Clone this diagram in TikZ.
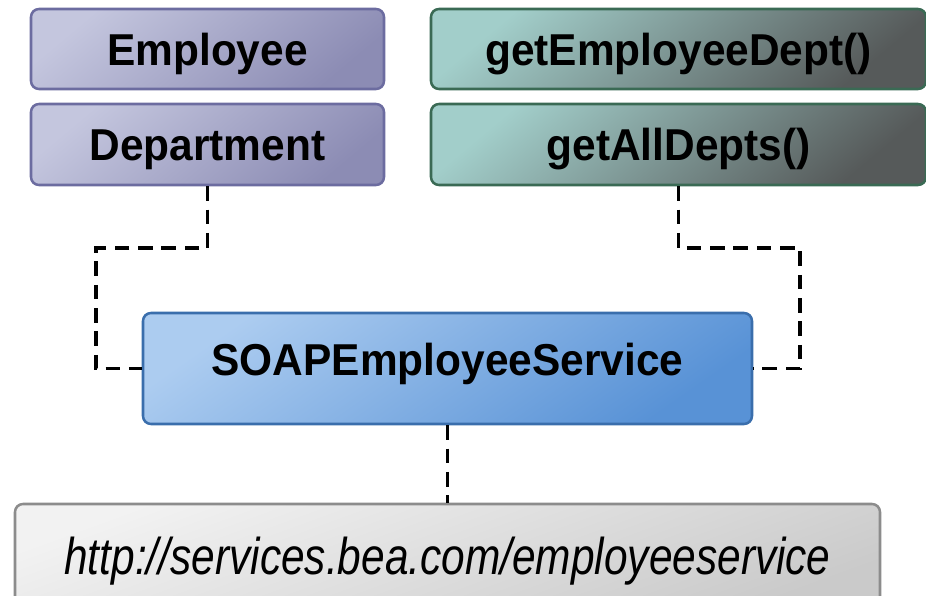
\documentclass[tikz,border=0pt]{standalone}
\usepackage{fontspec}
\setmainfont{Liberation Sans}
\newfontfamily\boxfont{Liberation Sans}[FakeStretch=0.95]
\newfontfamily\urlfont{Liberation Sans}[FakeStretch=0.82]
\usepackage{tikz}
\usetikzlibrary{positioning,calc,shadings}

\definecolor{purpleA}{RGB}{196,198,222}
\definecolor{purpleB}{RGB}{140,140,180}
\definecolor{purpleline}{RGB}{108,108,160}
\definecolor{tealA}{RGB}{162,206,202}
\definecolor{tealM}{RGB}{148,184,182}
\definecolor{tealB}{RGB}{86,90,90}
\definecolor{tealline}{RGB}{58,106,84}
\definecolor{blueA}{RGB}{172,204,240}
\definecolor{blueB}{RGB}{88,146,214}
\definecolor{blueline}{RGB}{58,110,172}
\definecolor{greyA}{RGB}{242,242,242}
\definecolor{greyB}{RGB}{202,202,202}
\definecolor{greyline}{RGB}{140,140,140}

\begin{document}
\begin{tikzpicture}[x=0.75pt, y=-0.75pt,
        box/.style={rounded corners=6pt, line width=1.9pt, inner sep=0pt,
            text height=24pt, text depth=0pt,
            font=\boxfont\fontsize{33.5}{40}\selectfont\bfseries},
        classbox/.style={box, draw=purpleline, top color=purpleA, bottom color=purpleB,
            shading angle=40, minimum width=264.75pt},
        methodbox/.style={box, draw=tealline, top color=tealA, middle color=tealM,
            bottom color=tealB, shading angle=40, minimum width=371.25pt},
        servicebox/.style={box, draw=blueline, top color=blueA, bottom color=blueB,
            shading angle=35},
        urlbox/.style={rounded corners=6pt, line width=1.9pt, inner sep=0pt,
            draw=greyline, top color=greyA, bottom color=greyB, shading angle=20,
            text height=27.75pt, text depth=0pt,
            font=\urlfont\fontsize{38.8}{46}\selectfont\itshape},
        link/.style={line width=2.6pt, dash pattern=on 11pt off 6.5pt}]
        % picture frame
        \clip (0,0) rectangle (926,596);
        % draw the classes
        \node[classbox, minimum height=60pt] (employee) at (207.5,49) {Employee};
        \node[classbox, minimum height=60.75pt] (dept) at (207.5,144.5) {Department};
        % draw the methods
        \node[methodbox, minimum height=60pt] (getempdept) at (678.5,49) {getEmployeeDept()};
        \node[methodbox, minimum height=60.75pt] (getalldepts) at (678.5,144.5) {getAllDepts()};
        % the service and its address
        \node[servicebox, minimum width=456.75pt, minimum height=83.25pt,
            text depth=13.5pt] (soap) at (447.5,368.5) {SOAPEmployeeService};
        \node[urlbox, minimum width=648.75pt, minimum height=78pt] (url) at (447.5,556)
            {http://services.bea.com/employeeservice};
        % bends of the dashed links
        \coordinate (leftbend) at (96,248);
        \coordinate (rightbend) at (800,248);
        % draw the links
        \draw[link] (dept.south) |- (leftbend) |- (soap.west);
        \draw[link] (getalldepts.south) |- (rightbend) |- (soap.east);
        \draw[link] (soap.south) -- (url.north);
    \end{tikzpicture}
\end{document}
